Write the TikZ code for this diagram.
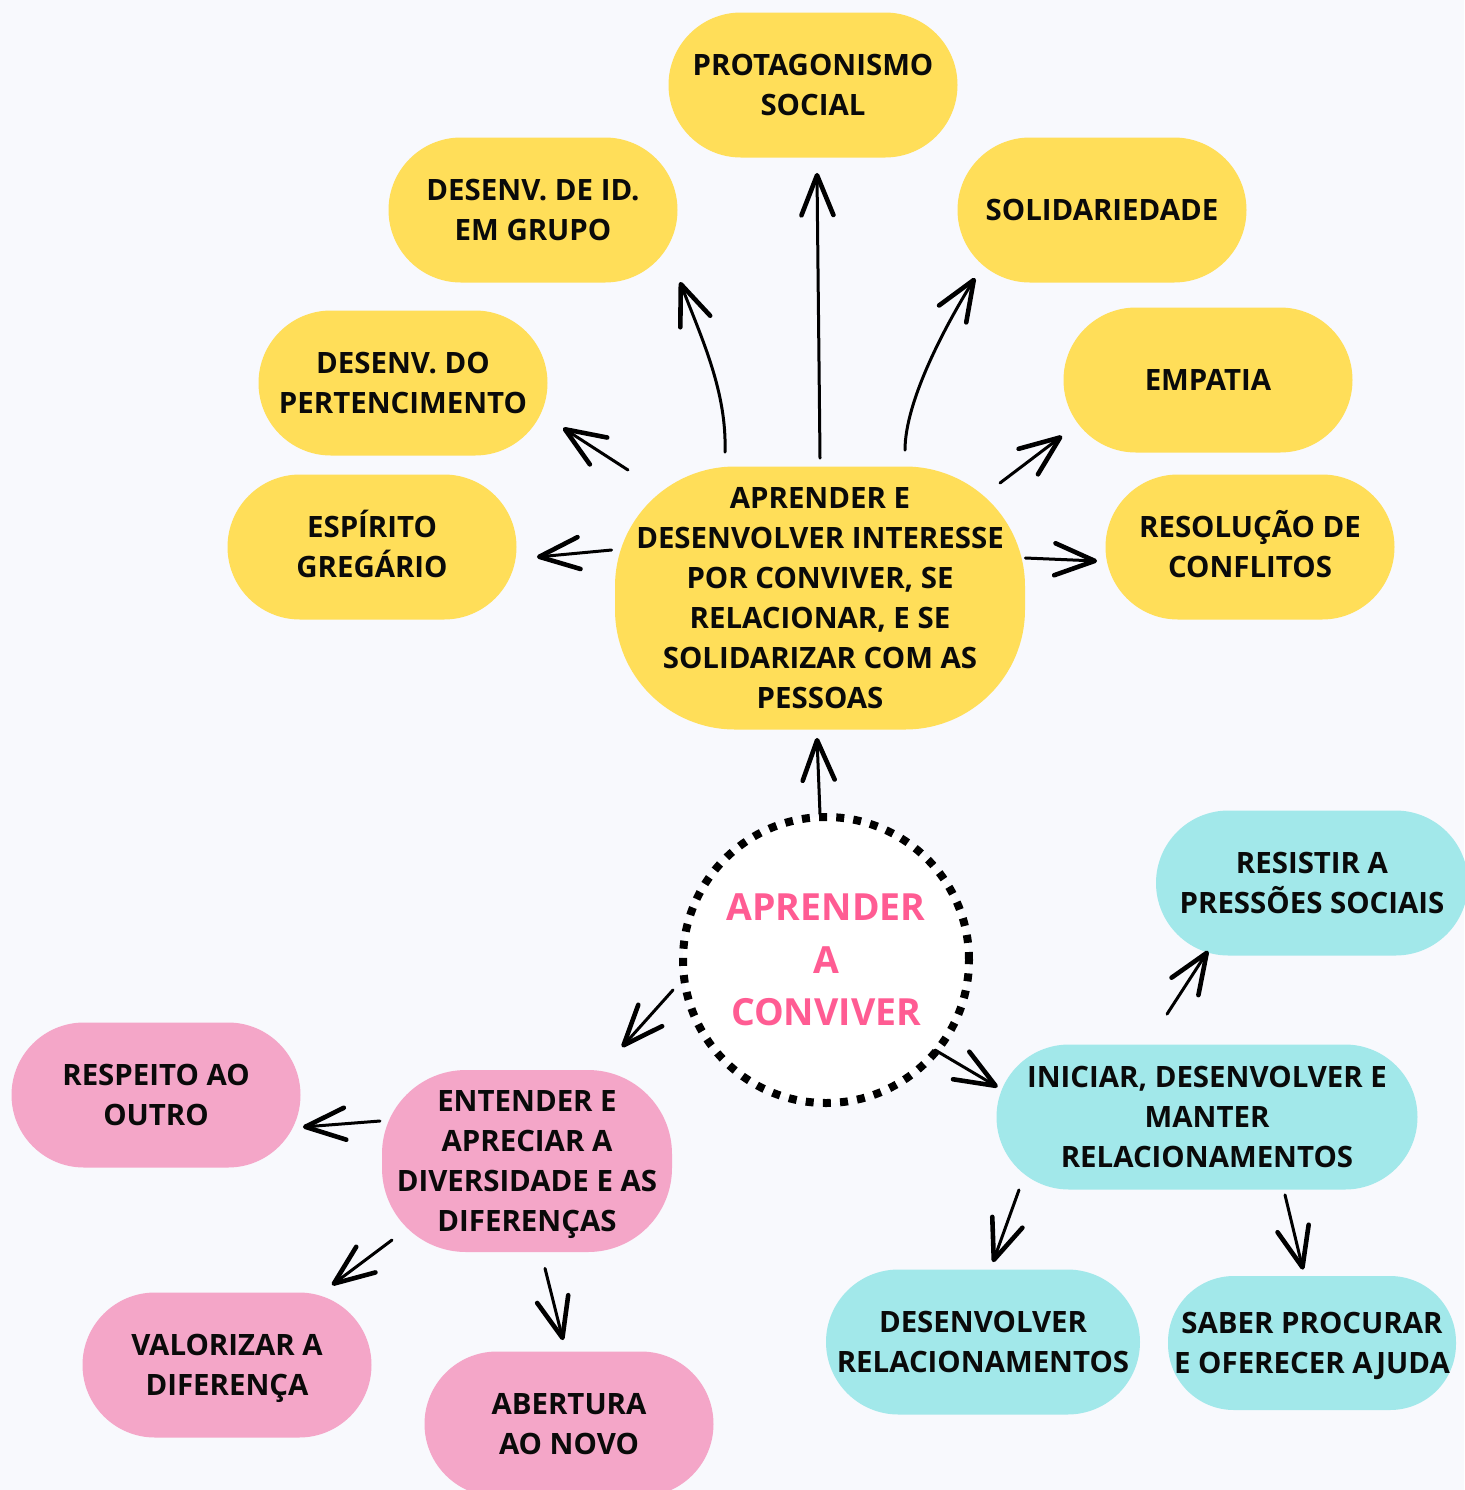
\documentclass[tikz,border=0pt]{standalone}
\usepackage{fontspec}
\setmainfont{Open Sans}
\usetikzlibrary{shapes.misc,arrows.meta}
\definecolor{bg}{HTML}{F8F9FD}
\definecolor{ylw}{HTML}{FFDE59}
\definecolor{pnk}{HTML}{F4A6C8}
\definecolor{cyn}{HTML}{A2E8EA}
\definecolor{ttl}{HTML}{FF5C93}
\definecolor{txt}{HTML}{0A0A0A}
\newcommand\fixh[1]{\raisebox{0pt}[\fontcharht\font`E][\depth]{#1}}
\newcommand\fixd[1]{\raisebox{0pt}[\height][0pt]{#1}}
\tikzset{
  nfont/.style={font=\bfseries\fontsize{14.7}{20}\selectfont},
  pill/.style={rounded rectangle, minimum width=144.5pt, minimum height=72.5pt,
    inner sep=0pt, align=center, text=txt, nfont},
  ynode/.style={pill, fill=ylw},
  pnode/.style={pill, fill=pnk},
  cnode/.style={pill, fill=cyn},
  arr/.style={-{Straight Barb[length=20pt,width=16pt,line width=2.3pt,round]},
    line width=1.5pt, line cap=round, draw=black},
}
\begin{document}
\begin{tikzpicture}[x=0.5pt,y=-0.5pt]
\fill[bg] (0,0) rectangle (1464,1490);
\useasboundingbox (0,0) rectangle (1464,1490);

% yellow group
\node[ynode] (prot) at (813,85) {PROTAGONISMO\\SOCIAL};
\node[ynode] (id) at (533,210) {DESENV. DE ID.\\EM GRUPO};
\node[ynode] (sol) at (1102,210) {SOLIDARIEDADE};
\node[ynode] (pert) at (403,383) {DESENV. DO\\PERTENCIMENTO};
\node[ynode] (emp) at (1208,380) {EMPATIA};
\node[ynode] (esp) at (372,547) {\fixh{ESPÍRITO}\\GREGÁRIO};
\node[ynode] (res) at (1250,547) {\fixh{RESOLUÇÃO DE}\\CONFLITOS};
\node[rectangle, rounded corners=60pt, fill=ylw, minimum width=205pt,
  minimum height=131.5pt, inner sep=0pt, align=center, text=txt, nfont]
  (central) at (820,598)
  {APRENDER E\\DESENVOLVER INTERESSE\\POR CONVIVER, SE\\RELACIONAR, E SE\\SOLIDARIZAR COM AS\\PESSOAS};

% centre circle
\node[circle, minimum size=143pt, inner sep=0pt, fill=white, draw=black,
  line width=4pt, dash pattern=on 4pt off 4.6pt, align=center, text=ttl,
  font=\bfseries\fontsize{18.7}{26.3}\selectfont] (circ) at (826,960)
  {APRENDER\\A\\CONVIVER};

% cyan group
\node[cnode, minimum width=156pt] (resist) at (1312,883) {RESISTIR A\\PRESSÕES SOCIAIS};
\node[cnode, minimum width=210.5pt] (ini) at (1207,1117) {INICIAR, DESENVOLVER E\\MANTER\\RELACIONAMENTOS};
\node[cnode, minimum width=157pt] (desrel) at (983,1342) {DESENVOLVER\\RELACIONAMENTOS};
\node[rectangle, rounded corners=33pt, fill=cyn, minimum width=144pt,
  minimum height=67pt, inner sep=0pt, align=center, text=txt, nfont]
  (saber) at (1312,1343) {SABER PROCURAR\\\fixd{E OFERECER AJUDA}};

% pink group
\node[pnode] (resp) at (156,1095) {RESPEITO AO\\OUTRO};
\node[rectangle, rounded corners=42pt, fill=pnk, minimum width=145pt,
  minimum height=91pt, inner sep=0pt, align=center, text=txt, nfont]
  (ent) at (527,1161)
  {ENTENDER E\\APRECIAR A\\DIVERSIDADE E AS\\\fixd{DIFERENÇAS}};
\node[pnode] (val) at (227,1365) {VALORIZAR A\\\fixd{DIFERENÇA}};
\node[pnode] (abe) at (569,1424) {ABERTURA\\AO NOVO};

% connectors
\draw[arr] ([shift={(-6,1)}]circ.north) -- ([shift={(-3,8)}]central.south);
\draw[arr] ([shift={(0,-8)}]central.north) .. controls +(-1,-100) and +(1,100) .. ([shift={(4,15)}]prot.south);
\draw[arr] ([shift={(-95,-14)}]central.north) .. controls +(2,-60) and +(22,57) .. ([shift={(147,72)}]id.center);
\draw[arr] ([shift={(85,-16)}]central.north) .. controls +(0,-50) and +(-28,45) .. ([shift={(-127,68)}]sol.center);
\draw[arr] ([shift={(-192,-128)}]central.center) -- ([shift={(160,45)}]pert.center);
\draw[arr] ([shift={(180,-115)}]central.center) -- ([shift={(-146,56)}]emp.center);
\draw[arr] ([shift={(-3,-48)}]central.west) -- ([shift={(20,10)}]esp.east);
\draw[arr] ([shift={(0,-40)}]central.east) -- ([shift={(-8,14)}]res.west);

\draw[arr] ([shift={(-153,30)}]circ.center) -- ([shift={(95,-114)}]ent.center);
\draw[arr] ([shift={(109,90)}]circ.center) -- ([shift={(1.5,-30)}]ini.west);

\draw[arr] ([shift={(-40,-30)}]ini.north) -- ([shift={(-104,-5)}]resist.south);
\draw[arr] ([shift={(-188,0)}]ini.south) -- ([shift={(10,-7)}]desrel.north);
\draw[arr] ([shift={(78,5)}]ini.south) -- ([shift={(-9,-6)}]saber.north);

\draw[arr] ([shift={(-147,-40)}]ent.center) -- ([shift={(2,32)}]resp.east);
\draw[arr] ([shift={(-135,79)}]ent.center) -- ([shift={(105,-80)}]val.center);
\draw[arr] ([shift={(18,16)}]ent.south) -- ([shift={(-6,-11)}]abe.north);
\end{tikzpicture}
\end{document}
